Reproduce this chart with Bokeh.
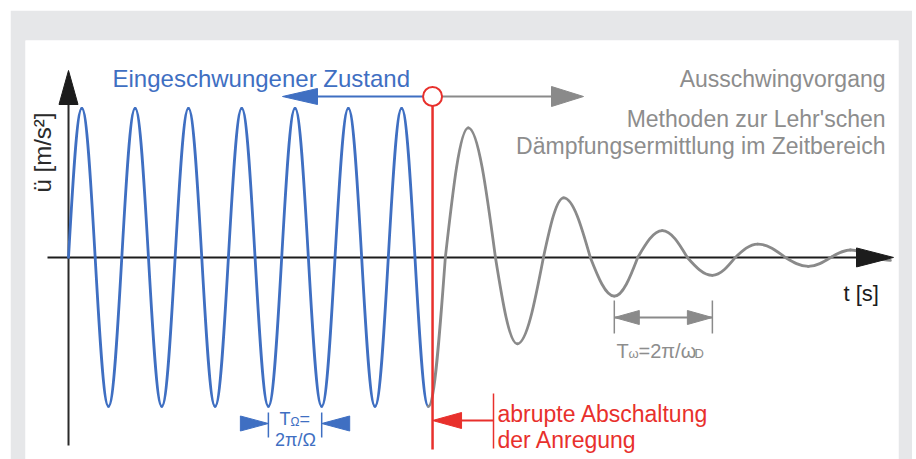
import numpy as np
from bokeh.plotting import figure
from bokeh.models import Range1d, Label
from bokeh.embed import file_html
from bokeh.resources import INLINE

# ---------------- data (t in excitation periods T_Omega, a in steady-state amplitudes)
# key points of the steady-state (blue) oscillation: zero crossings and extrema
blue_t = [0.0, 0.25, 0.5, 0.75, 1.0, 1.25, 1.5, 1.75, 2.0, 2.25, 2.5, 2.75, 3.0, 3.25,
          3.5, 3.75, 4.0, 4.25, 4.5, 4.75, 5.0, 5.25, 5.5, 5.75, 6.0, 6.25, 6.5, 6.75]
blue_a = [0, 1, 0, -1, 0, 1, 0, -1, 0, 1, 0, -1, 0, 1,
          0, -1, 0, 1, 0, -1, 0, 1, 0, -1, 0, 1, 0, -1]
# key points of the free decay (gray) oscillation
gray_t = [6.75, 7.07, 7.50, 8.01, 8.42, 8.91, 9.29, 9.79, 10.24, 10.68, 11.14,
          11.61, 12.08, 12.51, 12.93, 13.45, 13.88, 14.30, 14.67, 15.12, 15.42]
gray_a = [-1.0, 0, 0.87, 0, -0.58, 0, 0.40, 0, -0.26, 0, 0.18,
          0, -0.12, 0, 0.09, 0, -0.06, 0, 0.05, 0, -0.02]
t_switch_off = 6.83
blue_period_marks = (15, 19)   # indices in blue_t of the two troughs spanning T_Omega
gray_period_marks = (8, 12)    # indices in gray_t of the two troughs spanning T_omega

# ---------------- style / layout
BLUE = "#3f6fc2"
RED = "#e8302c"
GRAY = "#8a8a8a"
GRAY_TXT = "#8d8d8d"
DARK = "#1c1c1c"
BG = "#e6e7e9"
FONT = "Liberation Sans"

OFF = 10                      # page offset of the figure (via margin)
W, H = 902, 449
ML, MR, MT, MB = 15, 14, 30, 0
x_start, x_end = -0.807, 15.572
y_start, y_end = -1.356, 1.456
FW, FH = W - ML - MR, H - MT - MB
PX = FW / (x_end - x_start)   # pixels per t unit
PY = FH / (y_end - y_start)   # pixels per amplitude unit
FL, FT = OFF + ML, OFF + MT   # frame left/top on page


def sx(px):
    return x_start + (px - FL) / PX


def sy(py):
    return y_end - (py - FT) / PY


p = figure(width=W, height=H, output_backend="svg", toolbar_location=None,
           x_range=Range1d(x_start, x_end), y_range=Range1d(y_start, y_end),
           x_axis_type=None, y_axis_type=None,
           min_border_left=ML, min_border_right=MR, min_border_top=MT, min_border_bottom=MB)
p.margin = (OFF, 0, 0, OFF)
p.title.visible = False
p.background_fill_color = "white"
p.border_fill_color = BG
p.outline_line_color = None


def quarter_beziers(t, a):
    out = {k: [] for k in ("x0", "y0", "x1", "y1", "cx0", "cy0", "cx1", "cy1")}
    for i in range(len(t) - 1):
        ta, tb, aa, ab = t[i], t[i + 1], a[i], a[i + 1]
        d = tb - ta
        if aa == 0:
            c0 = (ta + 0.3261 * d, 0.5123 * ab)
            c1 = (ta + 0.6381 * d, ab)
        else:
            c0 = (ta + 0.3619 * d, aa)
            c1 = (ta + 0.6739 * d, 0.5123 * aa)
        out["x0"].append(ta); out["y0"].append(aa)
        out["x1"].append(tb); out["y1"].append(ab)
        out["cx0"].append(c0[0]); out["cy0"].append(c0[1])
        out["cx1"].append(c1[0]); out["cy1"].append(c1[1])
    return out


def head(tx, ty, direction, length_px, half_px):
    if direction in ("left", "right"):
        s = 1 if direction == "right" else -1
        bx = tx - s * length_px / PX
        return [tx, bx, bx], [ty, ty + half_px / PY, ty - half_px / PY]
    s = 1 if direction == "up" else -1
    by = ty - s * length_px / PY
    return [tx, tx + half_px / PX, tx - half_px / PX], [ty, by, by]


# ---------------- axes lines
x_ax_l, x_ax_r = sx(47), sx(893)
y_ax_b, y_ax_t = sy(445), sy(70)
p.segment(x0=[x_ax_l], y0=[0], x1=[x_ax_r - 30 / PX], y1=[0], line_color=DARK, line_width=2)
p.segment(x0=[0], y0=[y_ax_b], x1=[0], y1=[y_ax_t - 30 / PY], line_color="#2a2a2a", line_width=2)

# ---------------- oscillations
b = quarter_beziers(blue_t, blue_a)
p.bezier(line_color=BLUE, line_width=2.8, line_cap="round", **b)
g = quarter_beziers(gray_t, gray_a)
p.bezier(line_color=GRAY, line_width=2.8, line_cap="round", **g)

# axis arrowheads
hx, hy = head(x_ax_r, 0, "right", 37, 9.5)
vx, vy = head(0, y_ax_t, "up", 34, 9.5)
p.patches(xs=[hx, vx], ys=[hy, vy], fill_color=DARK, line_color=DARK, line_width=1)

# ---------------- switch-off marker
yc = sy(96)
tip_blue = sx(282)
tip_gray = sx(583)
p.segment(x0=[t_switch_off], y0=[yc], x1=[tip_blue + 33 / PX], y1=[yc], line_color=BLUE, line_width=2)
p.segment(x0=[t_switch_off], y0=[yc], x1=[tip_gray - 30 / PX], y1=[yc], line_color=GRAY, line_width=2)
bx_, by_ = head(tip_blue, yc, "left", 35, 8)
p.patch(bx_, by_, fill_color=BLUE, line_color=BLUE)
gx_, gy_ = head(tip_gray, yc, "right", 32, 10)
p.patch(gx_, gy_, fill_color=GRAY, line_color=GRAY)
p.segment(x0=[t_switch_off], y0=[yc], x1=[t_switch_off], y1=[sy(449)], line_color=RED, line_width=2.5)
p.scatter(x=[t_switch_off], y=[yc], marker="circle", size=19, fill_color="white",
          line_color=RED, line_width=2)

# red annotation
rt = sx(493)
p.segment(x0=[rt], y0=[sy(393)], x1=[rt], y1=[sy(448)], line_color=RED, line_width=1.5)
p.segment(x0=[rt], y0=[sy(420)], x1=[t_switch_off + 25 / PX], y1=[sy(420)], line_color=RED, line_width=2)
rx_, ry_ = head(t_switch_off, sy(420), "left", 29, 8)
p.patch(rx_, ry_, fill_color=RED, line_color=RED)

# T_Omega marker
bt0, bt1 = blue_t[blue_period_marks[0]], blue_t[blue_period_marks[1]]
p.segment(x0=[bt0, bt1], y0=[sy(412)] * 2, x1=[bt0, bt1], y1=[sy(437)] * 2, line_color=BLUE, line_width=1.5)
l1 = head(bt0, sy(423), "right", 28, 7.5)
l2 = head(bt1, sy(423), "left", 28, 7.5)
p.patches(xs=[l1[0], l2[0]], ys=[l1[1], l2[1]], fill_color=BLUE, line_color=BLUE)

# T_omega marker
gt0, gt1 = gray_t[gray_period_marks[0]], gray_t[gray_period_marks[1]]
p.segment(x0=[gt0, gt1], y0=[sy(300)] * 2, x1=[gt0, gt1], y1=[sy(333)] * 2, line_color=GRAY, line_width=1.5)
p.segment(x0=[gt0], y0=[sy(317)], x1=[gt1], y1=[sy(317)], line_color=GRAY, line_width=2)
m1 = head(gt0, sy(317), "left", 25, 7)
m2 = head(gt1, sy(317), "right", 25, 7)
p.patches(xs=[m1[0], m2[0]], ys=[m1[1], m2[1]], fill_color=GRAY, line_color=GRAY)


# ---------------- texts
def lab(px, py, text, size, color, align="left", baseline="alphabetic", angle=0.0):
    p.add_layout(Label(x=sx(px), y=sy(py), text=text, text_font=FONT,
                       text_font_size=f"{size}px", text_color=color, text_align=align,
                       text_baseline=baseline, angle=angle))


lab(112, 78, "Eingeschwungener Zustand", 24, BLUE)
lab(885, 78, "Ausschwingvorgang", 23, GRAY_TXT, align="right")
lab(885, 118, "Methoden zur Lehr'schen", 23, GRAY_TXT, align="right")
lab(885, 145, "Dämpfungsermittlung im Zeitbereich", 23, GRAY_TXT, align="right")
lab(843, 293, "t [s]", 22, DARK)
lab(42, 152, "ü [m/s²]", 24, "#2a2a2a", align="center", baseline="middle", angle=np.pi / 2)
lab(497, 413, "abrupte Abschaltung", 23, RED)
lab(497, 439, "der Anregung", 23, RED)

# T_Omega = 2 pi / Omega
lab(279, 418, "T", 18, BLUE)
lab(290, 421, "Ω", 12, BLUE)
lab(299, 418, "=", 18, BLUE)
lab(295, 439, "2π/Ω", 18, BLUE, align="center")

# T_omega = 2 pi / omega_D
lab(616, 350, "T", 20, GRAY_TXT)
lab(628, 353, "ω", 13, GRAY_TXT)
lab(638, 350, "=2π/ω", 20, GRAY_TXT)
lab(694, 353, "D", 13, GRAY_TXT)

open("out.html", "w").write(file_html(p, INLINE))
